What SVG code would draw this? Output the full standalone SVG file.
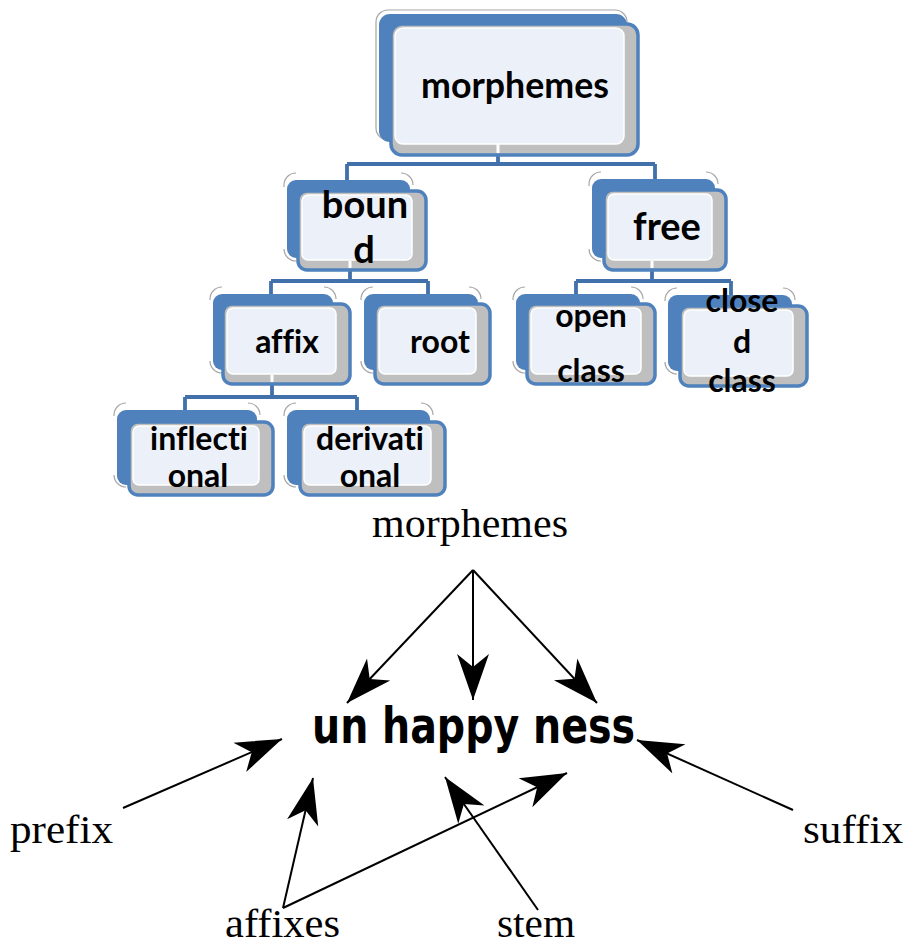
<svg xmlns="http://www.w3.org/2000/svg" width="908" height="948" viewBox="0 0 908 948">
  <style>
    .back { fill: #4F81BD; }
    .front { fill: #BFBFBF; stroke: #4F81BD; stroke-width: 3.5; }
    .face { fill: #ECF1F9; stroke: #FFFFFF; stroke-width: 1.5; }
    .edge { fill: none; stroke: #A6A6A6; stroke-width: 1.2; }
    .gap { stroke: #FFFFFF; stroke-width: 3; }
    .lbl { font-family: Lato, "Open Sans", sans-serif; font-weight: 700; fill: #000; text-anchor: middle; font-variant-ligatures: none; }
    .conn { fill: none; stroke: #4270AA; stroke-width: 3.8; }
    .serif { font-family: "Liberation Serif", serif; font-size: 40px; fill: #000; font-variant-ligatures: none; }
    .word { font-family: "DejaVu Sans", sans-serif; font-weight: 700; font-size: 50px; fill: #000; }
    .arrow { fill: none; stroke: #000; stroke-width: 2; marker-end: url(#head); }
  </style>
  <defs>
    <marker id="head" markerUnits="userSpaceOnUse" markerWidth="50" markerHeight="40" viewBox="0 -20 50 40" refX="46" refY="0" orient="auto">
      <path d="M46,0 L0,-16 L13,0 L0,16 Z" fill="#000"/>
    </marker>
  </defs>

  <rect width="908" height="948" fill="#FFFFFF"/>

  <!-- tree connectors -->
  <g id="connectors">
    <path class="conn" d="M498,155 V164 M347,164 H655 M347,164 V181 M655,164 V181"/>
    <path class="conn" d="M350,270 V281 M271,281 H428 M271,281 V295 M428,281 V295"/>
    <path class="conn" d="M652,270 V281 M576,281 H731 M576,281 V295 M731,281 V296"/>
    <path class="conn" d="M272,383 V397 M185,397 H357 M185,397 V411 M357,397 V411"/>
  </g>

  <!-- root node -->
  <g id="n-morphemes">
    <rect class="edge" x="376" y="10" width="251" height="130" rx="12"/>
    <rect class="back" x="379" y="14" width="248" height="128" rx="11"/>
    <rect class="front" x="391" y="24" width="247" height="131" rx="11"/>
    <rect class="face" x="395" y="28" width="229" height="116" rx="8"/>
    <line class="gap" x1="498" y1="144" x2="498" y2="153"/>
    <text class="lbl" x="515" y="98" font-size="36" textLength="188" lengthAdjust="spacingAndGlyphs">morphemes</text>
  </g>

  <g id="n-bound">
    <path class="edge" d="M284,187 V185 A12,12 0 0 1 296,173 M401,173 A12,12 0 0 1 413,185 M296,261 A12,12 0 0 1 284,249"/>
    <rect class="back" x="287" y="180" width="123" height="78" rx="9"/>
    <rect class="front" x="298" y="191" width="128" height="79" rx="9"/>
    <rect class="face" x="302" y="195" width="110" height="65" rx="6"/>
    <line class="gap" x1="350" y1="261" x2="350" y2="268"/>
    <text class="lbl" font-size="38"><tspan x="365" y="218">boun</tspan><tspan x="364" y="263">d</tspan></text>
  </g>

  <g id="n-free">
    <path class="edge" d="M589,186 V184 A12,12 0 0 1 601,172 M706,172 A12,12 0 0 1 718,184 M601,261 A12,12 0 0 1 589,249"/>
    <rect class="back" x="592" y="179" width="123" height="79" rx="9"/>
    <rect class="front" x="604" y="190" width="122" height="80" rx="9"/>
    <rect class="face" x="608" y="194" width="104" height="66" rx="6"/>
    <line class="gap" x1="652" y1="261" x2="652" y2="268"/>
    <text class="lbl" x="667" y="240" font-size="38">free</text>
  </g>

  <g id="n-affix">
    <path class="edge" d="M210,300 V299 A12,12 0 0 1 222,287 M324,287 A12,12 0 0 1 336,299 M222,373 A12,12 0 0 1 210,361"/>
    <rect class="back" x="213" y="294" width="120" height="76" rx="9"/>
    <rect class="front" x="223" y="304" width="127" height="80" rx="9"/>
    <rect class="face" x="227" y="308" width="109" height="66" rx="6"/>
    <line class="gap" x1="272" y1="375" x2="272" y2="382"/>
    <text class="lbl" x="287" y="353" font-size="32">affix</text>
  </g>

  <g id="n-root">
    <path class="edge" d="M361,300 V299 A12,12 0 0 1 373,287 M469,287 A12,12 0 0 1 481,299 M373,373 A12,12 0 0 1 361,361"/>
    <rect class="back" x="364" y="294" width="114" height="76" rx="9"/>
    <rect class="front" x="375" y="304" width="115" height="80" rx="9"/>
    <rect class="face" x="379" y="308" width="97" height="66" rx="6"/>
    <text class="lbl" x="440" y="353" font-size="32">root</text>
  </g>

  <g id="n-open-class">
    <path class="edge" d="M513,300 V299 A12,12 0 0 1 525,287 M631,287 A12,12 0 0 1 643,299 M525,373 A12,12 0 0 1 513,361"/>
    <rect class="back" x="516" y="294" width="124" height="76" rx="9"/>
    <rect class="front" x="527" y="304" width="128" height="80" rx="9"/>
    <rect class="face" x="531" y="308" width="110" height="66" rx="6"/>
    <text class="lbl" font-size="32"><tspan x="591" y="327">open</tspan><tspan x="591" y="382">class</tspan></text>
  </g>

  <g id="n-closed-class">
    <path class="edge" d="M665,301 V300 A12,12 0 0 1 677,288 M783,288 A12,12 0 0 1 795,300 M677,374 A12,12 0 0 1 665,362"/>
    <rect class="back" x="668" y="295" width="124" height="76" rx="9"/>
    <rect class="front" x="680" y="306" width="127" height="80" rx="9"/>
    <rect class="face" x="684" y="310" width="109" height="66" rx="6"/>
    <text class="lbl" font-size="32"><tspan x="742" y="312">close</tspan><tspan x="742" y="353">d</tspan><tspan x="742" y="392">class</tspan></text>
  </g>

  <g id="n-inflectional">
    <path class="edge" d="M114,416 V415 A12,12 0 0 1 126,403 M248,403 A12,12 0 0 1 260,415 M126,487 A12,12 0 0 1 114,475"/>
    <rect class="back" x="117" y="410" width="140" height="75" rx="9"/>
    <rect class="front" x="129" y="422" width="144" height="73" rx="9"/>
    <rect class="face" x="133" y="426" width="126" height="59" rx="6"/>
    <text class="lbl" font-size="32"><tspan x="199" y="450">inflecti</tspan><tspan x="198" y="487">onal</tspan></text>
  </g>

  <g id="n-derivational">
    <path class="edge" d="M284,416 V415 A12,12 0 0 1 296,403 M421,403 A12,12 0 0 1 433,415 M296,487 A12,12 0 0 1 284,475"/>
    <rect class="back" x="287" y="410" width="143" height="75" rx="9"/>
    <rect class="front" x="300" y="422" width="145" height="73" rx="9"/>
    <rect class="face" x="304" y="426" width="127" height="59" rx="6"/>
    <text class="lbl" font-size="32"><tspan x="370" y="450">derivati</tspan><tspan x="370" y="487">onal</tspan></text>
  </g>

  <!-- word analysis: labels -->
  <g id="w-morphemes"><text class="serif" x="372" y="537" textLength="196" lengthAdjust="spacingAndGlyphs">morphemes</text></g>
  <g id="w-word"><text class="word" x="312" y="743" textLength="323" lengthAdjust="spacingAndGlyphs">un happy ness</text></g>
  <g id="w-prefix"><text class="serif" x="10" y="843" textLength="103" lengthAdjust="spacingAndGlyphs">prefix</text></g>
  <g id="w-suffix"><text class="serif" x="803" y="843" textLength="100" lengthAdjust="spacingAndGlyphs">suffix</text></g>
  <g id="w-affixes"><text class="serif" x="225" y="937" font-size="38" textLength="115" lengthAdjust="spacingAndGlyphs">affixes</text></g>
  <g id="w-stem"><text class="serif" x="497" y="937" font-size="38" textLength="78" lengthAdjust="spacingAndGlyphs">stem</text></g>

  <!-- word analysis: arrows -->
  <g id="arrows">
    <path class="arrow" d="M473,570 L347,703"/>
    <path class="arrow" d="M473,570 L473,700"/>
    <path class="arrow" d="M473,570 L597,703"/>
    <path class="arrow" d="M123,808 L282,739"/>
    <path class="arrow" d="M283,908 L313,778"/>
    <path class="arrow" d="M283,908 L567,773"/>
    <path class="arrow" d="M538,910 L445,777"/>
    <path class="arrow" d="M793,810 L637,740"/>
  </g>
</svg>
